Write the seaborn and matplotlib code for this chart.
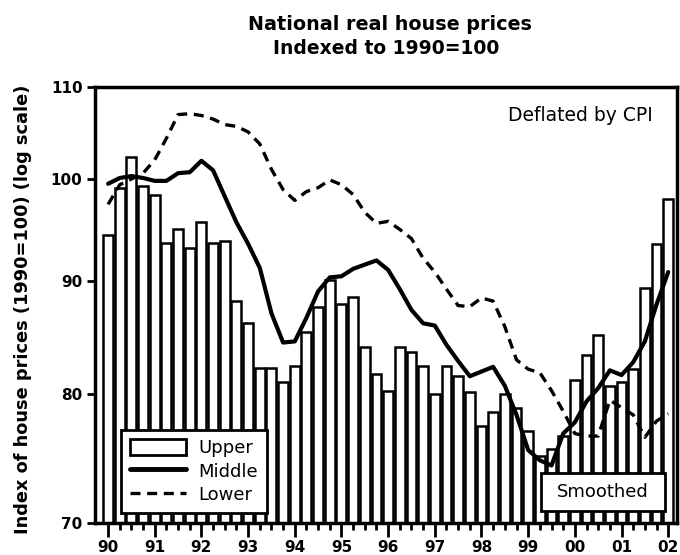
import numpy as np
import pandas as pd
import matplotlib
matplotlib.use("Agg")
import matplotlib.pyplot as plt
from matplotlib.patches import Rectangle
from matplotlib.lines import Line2D
from matplotlib.ticker import FixedLocator, NullFormatter
import seaborn as sns

# ---- data (quarterly, 1990Q1 .. 2002Q1) ----
quarters = 1990 + np.arange(49) / 4.0

upper = [94.4, 99.1, 102.3, 99.3, 98.3, 93.6, 94.9, 93.1, 95.6, 93.6,
         93.8, 88.1, 86.1, 82.2, 82.2, 81.0, 82.4, 85.3, 87.6, 90.1,
         87.8, 88.5, 84.0, 81.7, 80.3, 84.0, 83.6, 82.4, 80.0, 82.4,
         81.5, 80.2, 77.4, 78.5, 80.0, 78.9, 77.0, 75.0, 75.6, 76.6,
         81.2, 83.3, 85.1, 80.7, 81.0, 82.1, 89.3, 93.5, 97.9]

middle = [99.5, 100.1, 100.3, 100.1, 99.8, 99.8, 100.6, 100.7, 101.9, 100.9,
          98.2, 95.6, 93.5, 91.2, 87.0, 84.4, 84.5, 86.6, 89.0, 90.3,
          90.4, 91.1, 91.5, 91.9, 91.0, 89.2, 87.3, 86.1, 85.9, 84.2,
          82.8, 81.5, 81.9, 82.3, 80.7, 78.3, 75.5, 74.7, 74.3, 76.8,
          77.7, 79.4, 80.5, 82.0, 81.6, 82.7, 84.5, 87.8, 90.8]

lower = [97.4, 99.4, 100.0, 100.6, 102.0, 104.3, 106.9, 107.0, 106.8, 106.4,
         105.8, 105.6, 105.0, 103.7, 101.0, 98.9, 97.8, 98.7, 99.1, 99.9,
         99.4, 98.4, 96.6, 95.5, 95.7, 94.9, 94.0, 92.1, 90.8, 89.2,
         87.7, 87.6, 88.4, 88.1, 85.8, 82.9, 82.1, 81.8, 80.3, 78.6,
         76.8, 76.6, 76.6, 79.5, 78.9, 78.3, 76.5, 77.8, 78.4]

year_ticks = list(range(1990, 2003))
year_labels = ["90", "91", "92", "93", "94", "95", "96", "97", "98", "99",
               "00", "01", "02"]
y_ticks = [70, 80, 90, 100, 110]
y_labels = ["70", "80", "90", "100", "110"]

df = pd.DataFrame({"q": quarters, "Upper": upper, "Middle": middle, "Lower": lower})

# ---- figure ----
sns.set_style("white")
plt.rcParams["font.family"] = ["DejaVu Sans"]
plt.rcParams["text.color"] = "black"
plt.rcParams["axes.labelcolor"] = "black"
plt.rcParams["xtick.color"] = "black"
plt.rcParams["ytick.color"] = "black"

fig = plt.figure(figsize=(6.8, 5.55), dpi=100)
ax = fig.add_axes([0.1397, 0.0577, 0.856, 0.7855])

sns.barplot(data=df, x="q", y="Upper", native_scale=True, color="white",
            saturation=1, edgecolor="black", linewidth=1.8, width=0.85,
            ax=ax, zorder=1)
sns.lineplot(data=df, x="q", y="Middle", color="black", linewidth=3.0,
             ax=ax, zorder=3)
sns.lineplot(data=df, x="q", y="Lower", color="black", linewidth=2.4,
             linestyle=(0, (3, 2)), ax=ax, zorder=3)

ax.set_yscale("log")
ax.set_ylim(70, 110)
ax.set_xlim(1989.72, 2002.19)

ax.yaxis.set_major_locator(FixedLocator(y_ticks))
ax.yaxis.set_minor_locator(FixedLocator([]))
ax.set_yticklabels(y_labels)
ax.yaxis.set_minor_formatter(NullFormatter())
ax.set_xticks(year_ticks)
ax.set_xticklabels(year_labels)
ax.set_xticks(quarters, minor=True)

ax.tick_params(axis="y", which="major", direction="out", length=6, width=2,
               labelsize=11, left=True, pad=3, colors="black")
ax.tick_params(axis="x", which="major", direction="out", length=10, width=2,
               labelsize=11, bottom=True, pad=2, colors="black")
ax.tick_params(axis="x", which="minor", direction="out", length=5, width=2,
               bottom=True, colors="black")
for lab in ax.get_xticklabels() + ax.get_yticklabels():
    lab.set_fontweight("bold")

for s in ax.spines.values():
    s.set_visible(True)
    s.set_color("black")
    s.set_linewidth(2.5)

ax.set_xlabel("")
ax.set_ylabel("Index of house prices (1990=100) (log scale)", fontsize=12.8,
              fontweight="bold", color="black")
ax.yaxis.set_label_coords(-0.108, 0.49)

fig.text(0.574, 0.955, "National real house prices", ha="center", va="center",
         fontsize=13.8, fontweight="heavy", color="black")
fig.text(0.568, 0.912, "Indexed to 1990=100", ha="center", va="center",
         fontsize=13.5, fontweight="heavy", color="black")

ax.text(0.958, 0.935, "Deflated by CPI", transform=ax.transAxes, ha="right",
        va="center", fontsize=13.5, zorder=5, color="black")

# Smoothed box
ax.add_patch(Rectangle((0.766, 0.0275), 0.213, 0.087, transform=ax.transAxes,
                       facecolor="white", edgecolor="black", linewidth=2,
                       zorder=6))
ax.text(0.8725, 0.071, "Smoothed", transform=ax.transAxes, ha="center",
        va="center", fontsize=13, zorder=7, color="black")

handles = [Rectangle((0, 0), 1, 1, facecolor="white", edgecolor="black", linewidth=2),
           Line2D([], [], color="black", linewidth=3.5),
           Line2D([], [], color="black", linewidth=2.4, linestyle=(0, (3, 2)))]
leg = ax.legend(handles, ["Upper", "Middle", "Lower"], loc="lower left",
                bbox_to_anchor=(0.045, 0.023), borderaxespad=0, frameon=True,
                fancybox=False, edgecolor="black", framealpha=1,
                handlelength=3.1, handleheight=1.0, fontsize=13, borderpad=0.5,
                labelspacing=0.28, handletextpad=0.65, labelcolor="black")
leg.get_frame().set_linewidth(2)
leg.set_zorder(8)

fig.savefig("out.png", dpi=100)
